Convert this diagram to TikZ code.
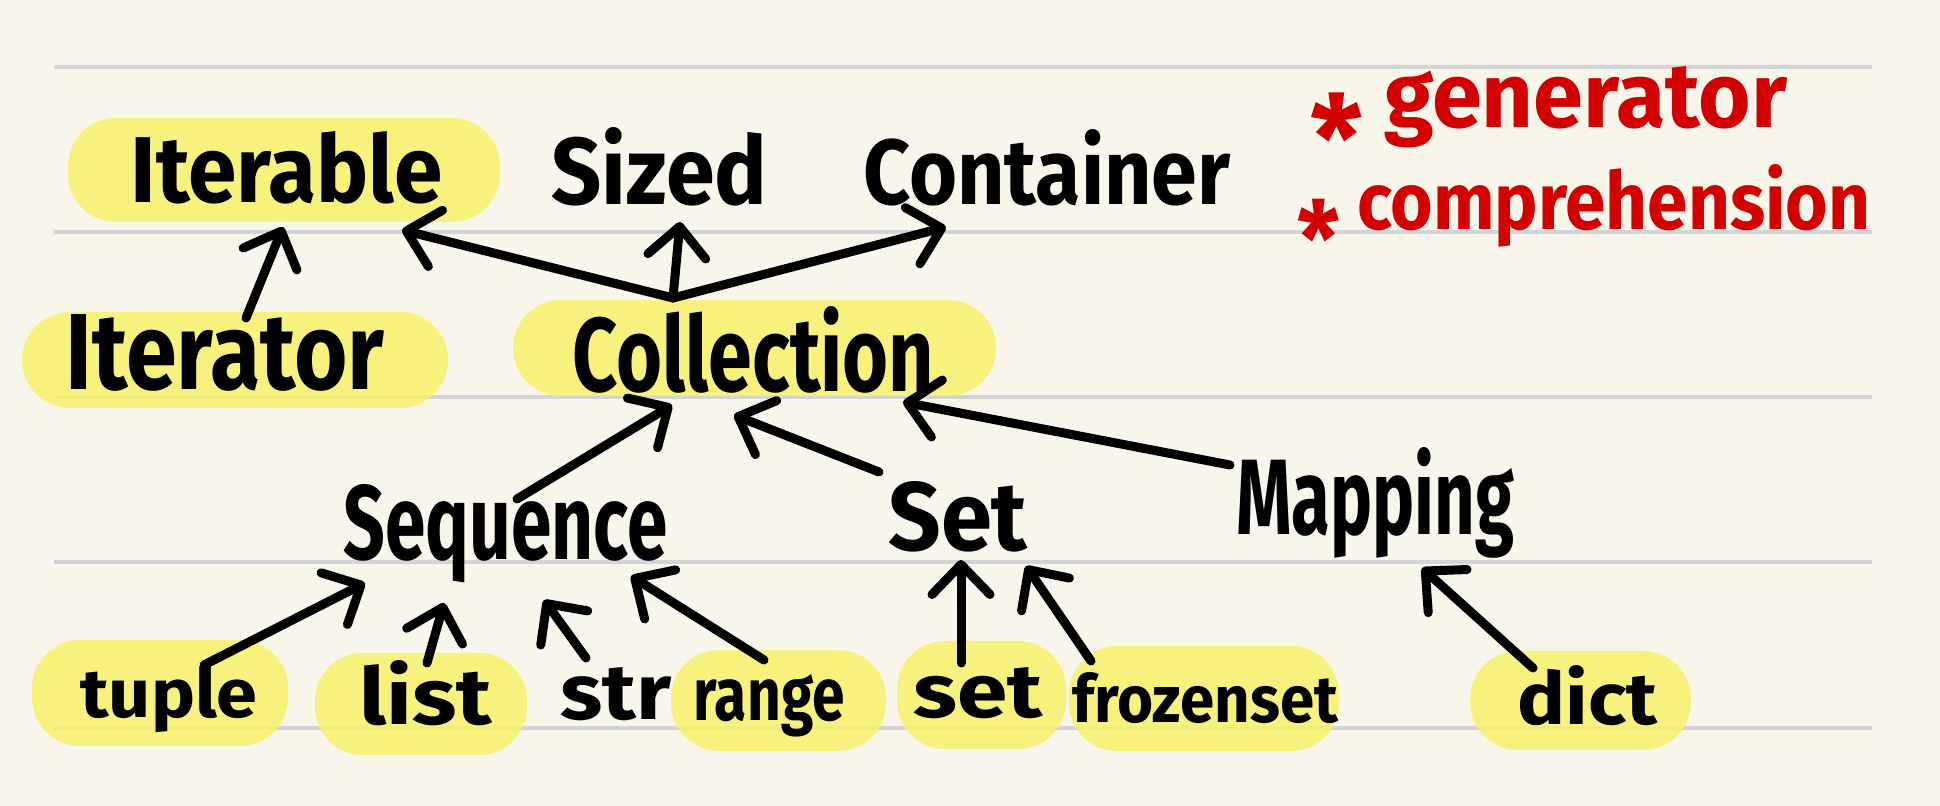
\documentclass[tikz,border=0pt]{standalone}
\usepackage{fontspec}
\setmainfont{Fira Sans}
\usetikzlibrary{arrows.meta}
\newlength\pxu \setlength\pxu{0.5pt}
\newcommand{\hw}[3]{\resizebox{#1\pxu}{#2\pxu}{\bfseries #3}}
\newcommand{\bigast}{\raisebox{-0.58em}{\scalebox{1.3}{*}}}
\definecolor{paper}{HTML}{F8F6EA}
\definecolor{rulegray}{HTML}{D3D4D6}
\definecolor{hlyellow}{HTML}{F7F26C}
\definecolor{handred}{HTML}{D20000}
\begin{document}
\begin{tikzpicture}[x=0.5pt,y=-0.5pt,
  lbl/.style={inner sep=0pt, anchor=base west},
  hl/.style={fill=hlyellow, fill opacity=0.85, rounded corners=24pt},
  conn/.style={line width=4.5pt, line cap=round, line join=round,
    -{Straight Barb[length=15pt,width=29pt,round]}},
  rule/.style={line width=2pt, draw=rulegray}]
\fill[paper] (0,0) rectangle (1940,806);
\useasboundingbox (0,0) rectangle (1940,806);
% ruled lines
\foreach \yy in {67,232,397,562,728} \draw[rule] (54,\yy) -- (1872,\yy);
% highlights
\fill[hl] (68,118) rectangle (500,222);
\fill[hl] (22,312) rectangle (448,408);
\fill[hl] (513,300) rectangle (996,396);
\fill[hl] (32,640) rectangle (288,746);
\fill[hl] (315,653) rectangle (527,755);
\fill[hl] (671,650) rectangle (886,751);
\fill[hl] (897,641) rectangle (1066,749);
\fill[hl] (1069,646) rectangle (1339,751);
\fill[hl] (1470,651) rectangle (1691,750);
% labels
\node[lbl] (iterable) at (130,203) {\hw{312}{71}{Iterable}};
\node[lbl] (sized) at (551,205) {\hw{216}{77}{Sized}};
\node[lbl] (container) at (863,205) {\hw{367}{75}{Container}};
\node[lbl] (iterator) at (65,390) {\hw{319}{75}{Iterator}};
\node[lbl] (collection) at (572,392) {\hw{362}{85}{Collection}};
\node[lbl] (sequence) at (343,560) {\hw{324}{75}{Sequence}};
\node[lbl] (Set) at (888,551) {\hw{139}{69}{Set}};
\node[lbl] (mapping) at (1236,535) {\hw{278}{87}{Mapping}};
\node[lbl] (tuple) at (80,718) {\hw{177}{52}{tuple}};
\node[lbl] (list) at (359,725) {\hw{133}{64}{list}};
\node[lbl] (str) at (560,720) {\hw{111}{52}{str}};
\node[lbl] (range) at (693,721) {\hw{151}{46}{range}};
\node[lbl] (set) at (913,718) {\hw{129}{50}{set}};
\node[lbl] (frozenset) at (1072,723) {\hw{266}{50}{frozenset}};
\node[lbl] (dict) at (1517,725) {\hw{140}{59}{dict}};
\node[lbl, text=handred] (gen) at (1310,128) {\hw{477}{61}{\bigast\ generator}};
\node[lbl, text=handred] (comp) at (1297,230) {\hw{573}{65}{\bigast\ comprehension}};
% connector ends
\coordinate (j) at (673,298);
\coordinate (iterable-a) at (283,227);
\coordinate (iterable-b) at (402,230);
\coordinate (sized-in) at (680,222);
\coordinate (container-in) at (946,227);
\coordinate (iterator-out) at (246,318);
\coordinate (coll-a) at (672,405);
\coordinate (coll-b) at (734,415);
\coordinate (coll-c) at (903,402);
\coordinate (sequence-out) at (517,499);
\coordinate (Set-out) at (879,472);
\coordinate (mapping-out) at (1230,465);
\coordinate (seq-a) at (365,583);
\coordinate (seq-b) at (444,603);
\coordinate (seq-c) at (544,600);
\coordinate (seq-d) at (631,576);
\coordinate (Set-a) at (961,560);
\coordinate (Set-b) at (1026,566);
\coordinate (mapping-in) at (1422,568);
\coordinate (tuple-out) at (204,665);
\coordinate (list-out) at (427,663);
\coordinate (str-out) at (586,658);
\coordinate (range-out) at (764,660);
\coordinate (set-out) at (961,663);
\coordinate (frozenset-out) at (1091,661);
\coordinate (dict-out) at (1533,668);
% connectors
\draw[conn] (iterator-out) -- (iterable-a);
\draw[conn] (j) -- (iterable-b);
\draw[conn] (j) -- (sized-in);
\draw[conn] (j) -- (container-in);
\draw[conn] (sequence-out) -- (coll-a);
\draw[conn] (Set-out) -- (coll-b);
\draw[conn] (mapping-out) -- (coll-c);
\draw[conn] (tuple-out) -- (seq-a);
\draw[conn] (list-out) -- (seq-b);
\draw[conn] (str-out) -- (seq-c);
\draw[conn] (range-out) -- (seq-d);
\draw[conn] (set-out) -- (Set-a);
\draw[conn] (frozenset-out) -- (Set-b);
\draw[conn] (dict-out) -- (mapping-in);
\end{tikzpicture}
\end{document}
